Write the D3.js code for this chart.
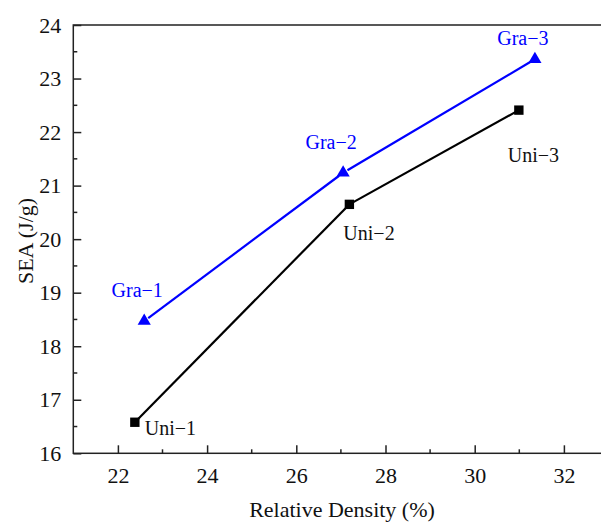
<!DOCTYPE html>
<html>
<head>
<meta charset="utf-8">
<script src="https://cdn.jsdelivr.net/npm/d3@7"></script>
<style>
  body { margin: 0; background: #fff; }
  svg { display: block; font-family: "Times New Roman", "Liberation Serif", serif; }
</style>
</head>
<body>
<svg width="601" height="525"></svg>
<script>
// data
var uniDensity = [22.38, 27.19, 30.99];
var uniSEA     = [16.58, 20.65, 22.41];
var uniNames   = ['Uni\u22121', 'Uni\u22122', 'Uni\u22123'];

var graDensity = [22.59, 27.05, 31.35];
var graSEA     = [18.47, 21.24, 23.36];
var graNames   = ['Gra\u22121', 'Gra\u22122', 'Gra\u22123'];

var xTicks = [22, 24, 26, 28, 30, 32];
var yTicks = [16, 17, 18, 19, 20, 21, 22, 23, 24];

var svg = d3.select('svg');
var plotLeft = 73.3, plotTop = 25, plotBottom = 453.3;

var x = d3.scaleLinear().domain([21, 34]).range([plotLeft, plotLeft + 13 * 44.6]);
var y = d3.scaleLinear().domain([16, 24]).range([plotBottom, plotTop]);

// frame
svg.append('rect')
  .attr('x', plotLeft).attr('y', plotTop)
  .attr('width', x(34) - plotLeft).attr('height', plotBottom - plotTop)
  .attr('fill', 'none').attr('stroke', '#222').attr('stroke-width', 1.5);

// x axis (ticks inward)
var xAxis = svg.append('g').attr('transform', 'translate(0,' + plotBottom + ')');
xAxis.call(d3.axisBottom(x).tickValues(xTicks).tickSize(-8).tickPadding(14).tickFormat(d3.format('d')));
xAxis.select('.domain').remove();
xAxis.append('g').selectAll('line')
  .data(d3.range(23, 34, 2)).enter().append('line')
  .attr('x1', function(d){ return x(d); }).attr('x2', function(d){ return x(d); })
  .attr('y1', 0).attr('y2', -4).attr('stroke', '#222').attr('stroke-width', 1.5);

// y axis (ticks inward)
var yAxis = svg.append('g').attr('transform', 'translate(' + plotLeft + ',0)');
yAxis.call(d3.axisLeft(y).tickValues(yTicks).tickSize(-8).tickPadding(12).tickFormat(d3.format('d')));
yAxis.select('.domain').remove();
yAxis.append('g').selectAll('line')
  .data(d3.range(16.5, 24, 1)).enter().append('line')
  .attr('y1', function(d){ return y(d); }).attr('y2', function(d){ return y(d); })
  .attr('x1', 0).attr('x2', 4).attr('stroke', '#222').attr('stroke-width', 1.5);

svg.selectAll('.tick line').attr('stroke', '#222').attr('stroke-width', 1.5);
svg.selectAll('.tick text')
  .style('font-family', '"Times New Roman", "Liberation Serif", serif')
  .style('font-size', '22px').attr('fill', '#111');

// axis titles
svg.append('text')
  .attr('x', 342).attr('y', 517)
  .attr('text-anchor', 'middle')
  .style('font-size', '22px').attr('fill', '#111')
  .text('Relative Density (%)');

svg.append('text')
  .attr('transform', 'translate(33,241) rotate(-90)')
  .attr('text-anchor', 'middle')
  .style('font-size', '22px').attr('fill', '#111')
  .text('SEA (J/g)');

// line with small gaps near the symbols
function drawSeries(xs, ys, color, gap){
  var pts = xs.map(function(d, i){ return [x(d), y(ys[i])]; });
  for (var i = 0; i < pts.length - 1; i++){
    var a = pts[i], b = pts[i + 1];
    var dx = b[0] - a[0], dy = b[1] - a[1];
    var len = Math.sqrt(dx * dx + dy * dy);
    var ux = dx / len, uy = dy / len;
    svg.append('line')
      .attr('x1', a[0] + ux * gap).attr('y1', a[1] + uy * gap)
      .attr('x2', b[0] - ux * gap).attr('y2', b[1] - uy * gap)
      .attr('stroke', color).attr('stroke-width', 2.2);
  }
  return pts;
}

drawSeries(uniDensity, uniSEA, '#000', 1.5);
drawSeries(graDensity, graSEA, '#0000ff', 5);

svg.append('g').selectAll('path')
  .data(uniDensity).enter().append('path')
  .attr('transform', function(d, i){ return 'translate(' + x(d) + ',' + y(uniSEA[i]) + ')'; })
  .attr('d', d3.symbol().type(d3.symbolSquare).size(88))
  .attr('fill', '#000');

svg.append('g').selectAll('path')
  .data(graDensity).enter().append('path')
  .attr('transform', function(d, i){ return 'translate(' + x(d) + ',' + y(graSEA[i]) + ')'; })
  .attr('d', d3.symbol().type(d3.symbolTriangle).size(75))
  .attr('fill', '#0000ff');

// point labels
var uniOffsets = [[10, 13, 'start'], [-6, 36, 'start'], [-11, 52, 'start']];
var graOffsets = [[-7, -24, 'middle'], [-12, -24, 'middle'], [-12, -14, 'middle']];

svg.append('g').selectAll('text')
  .data(uniNames).enter().append('text')
  .attr('x', function(d, i){ return x(uniDensity[i]) + uniOffsets[i][0]; })
  .attr('y', function(d, i){ return y(uniSEA[i]) + uniOffsets[i][1]; })
  .attr('text-anchor', function(d, i){ return uniOffsets[i][2]; })
  .style('font-size', '20px').attr('fill', '#111')
  .text(function(d){ return d; });

svg.append('g').selectAll('text')
  .data(graNames).enter().append('text')
  .attr('x', function(d, i){ return x(graDensity[i]) + graOffsets[i][0]; })
  .attr('y', function(d, i){ return y(graSEA[i]) + graOffsets[i][1]; })
  .attr('text-anchor', function(d, i){ return graOffsets[i][2]; })
  .style('font-size', '20px').attr('fill', '#0000ff')
  .text(function(d){ return d; });
</script>
</body>
</html>
